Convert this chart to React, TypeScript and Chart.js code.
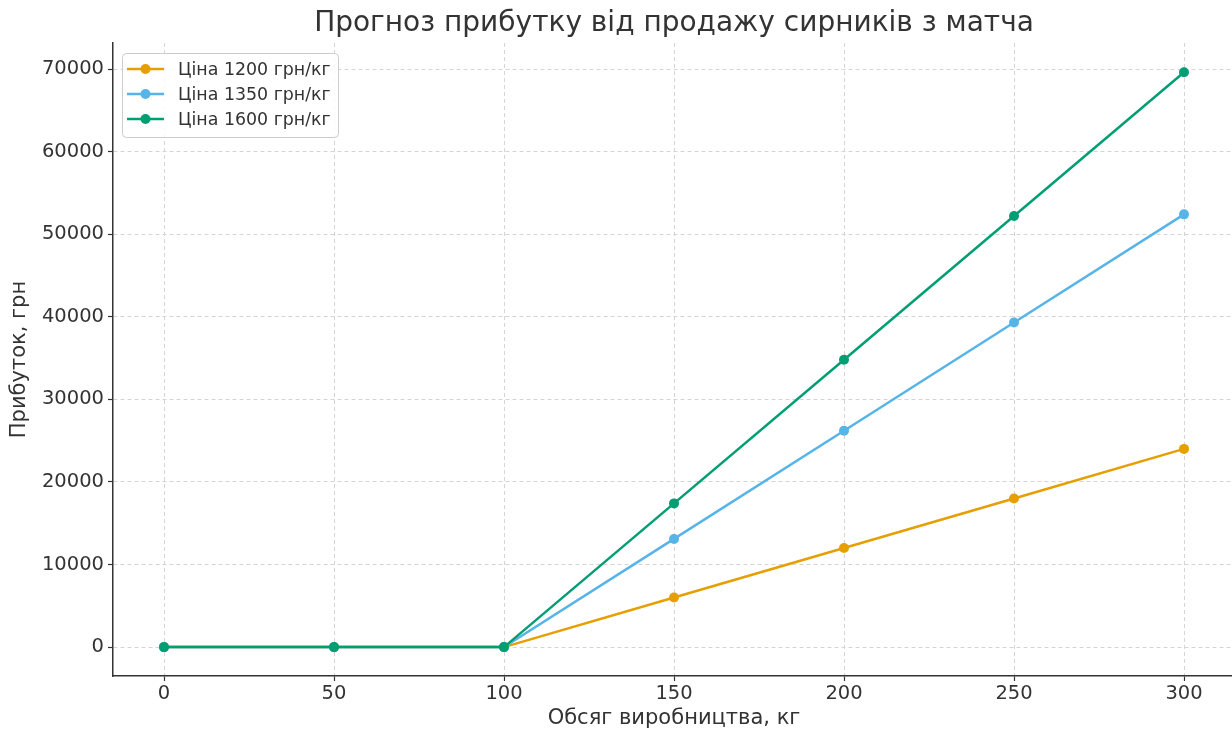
import React, { useEffect, useRef } from "react";
import { Chart, registerables } from "chart.js";

Chart.register(...registerables);

const titleText = "Прогноз прибутку від продажу сирників з матча";
const xTitle = "Обсяг виробництва, кг";
const yTitle = "Прибуток, грн";

const volumes = [0, 50, 100, 150, 200, 250, 300];
const profit1200 = [0, 0, 0, 6000, 12000, 18000, 24000];
const profit1350 = [0, 0, 0, 13100, 26200, 39300, 52400];
const profit1600 = [0, 0, 0, 17400, 34800, 52200, 69600];
const seriesLabels = ["Ціна 1200 грн/кг", "Ціна 1350 грн/кг", "Ціна 1600 грн/кг"];
const seriesColors = ["#E69F00", "#56B4E9", "#009E73"];
const xTicks = [0, 50, 100, 150, 200, 250, 300];
const yTicks = [0, 10000, 20000, 30000, 40000, 50000, 60000, 70000];

const FONT = "'DejaVu Sans', sans-serif";
const TEXT = "#333333";
const CANVAS_W = 1240;

const titlePlugin = {
  id: "customTitle",
  afterDraw(chart: any) {
    const ctx = chart.ctx;
    const a = chart.chartArea;
    ctx.save();
    ctx.fillStyle = TEXT;
    ctx.font = `28px ${FONT}`;
    ctx.textAlign = "center";
    ctx.textBaseline = "middle";
    ctx.fillText(titleText, (a.left + a.right) / 2, 24);
    ctx.restore();
  },
};

const legendPlugin = {
  id: "innerLegend",
  afterDraw(chart: any) {
    const ctx = chart.ctx;
    const a = chart.chartArea;
    const x0 = a.left + 9;
    const y0 = a.top + 10;
    const w = 216;
    const h = 84;
    ctx.save();
    ctx.fillStyle = "rgba(255,255,255,0.85)";
    ctx.strokeStyle = "#cccccc";
    ctx.lineWidth = 1;
    ctx.beginPath();
    (ctx as any).roundRect(x0 + 0.5, y0 + 0.5, w, h, 4);
    ctx.fill();
    ctx.stroke();
    ctx.font = `17.4px ${FONT}`;
    ctx.textBaseline = "middle";
    ctx.textAlign = "left";
    chart.data.datasets.forEach((ds: any, i: number) => {
      const cy = y0 + 16 + i * 25;
      ctx.strokeStyle = ds.borderColor;
      ctx.lineWidth = 2.5;
      ctx.beginPath();
      ctx.moveTo(x0 + 5, cy);
      ctx.lineTo(x0 + 42, cy);
      ctx.stroke();
      ctx.fillStyle = ds.borderColor;
      ctx.beginPath();
      ctx.arc(x0 + 23.5, cy, 5, 0, Math.PI * 2);
      ctx.fill();
      ctx.fillStyle = TEXT;
      ctx.fillText(ds.label, x0 + 56, cy + 1);
    });
    ctx.restore();
  },
};

export default function App() {
  const ref = useRef<HTMLCanvasElement | null>(null);

  useEffect(() => {
    if (!ref.current) return;
    const datasets = [profit1200, profit1350, profit1600].map((vals, i) => ({
      label: seriesLabels[i],
      data: volumes.map((v, j) => ({ x: v, y: vals[j] })),
      borderColor: seriesColors[i],
      backgroundColor: seriesColors[i],
      borderWidth: 2.5,
      pointRadius: 5,
      pointHoverRadius: 5,
      pointBorderWidth: 0,
      tension: 0,
      order: 3 - i,
    }));
    const chart = new Chart(ref.current, {
      type: "line",
      data: { datasets },
      options: {
        animation: false,
        responsive: false,
        maintainAspectRatio: false,
        layout: { padding: { top: 43, right: 0, left: 0, bottom: 0 } },
        plugins: {
          legend: { display: false },
          title: { display: false },
          tooltip: { enabled: false },
        },
        scales: {
          x: {
            type: "linear",
            min: -15,
            max: 315,
            afterBuildTicks: (s: any) => {
              s.ticks = xTicks.map((v) => ({ value: v }));
            },
            afterFit: (s: any) => {
              s.height = 55;
            },
            grid: {
              color: "#d4d4d4",
              lineWidth: 1,
              tickLength: 5,
              tickColor: TEXT,
              tickWidth: 1.2,
            },
            border: { display: true, color: TEXT, width: 1.5, dash: [4, 3] },
            ticks: {
              color: TEXT,
              font: { family: FONT, size: 19.5 },
              padding: 1,
              maxRotation: 0,
              autoSkip: false,
            },
            title: {
              display: true,
              text: xTitle,
              color: TEXT,
              font: { family: FONT, size: 21 },
              padding: 0,
            },
          },
          y: {
            type: "linear",
            min: -3500,
            max: 73150,
            afterBuildTicks: (s: any) => {
              s.ticks = yTicks.map((v) => ({ value: v }));
            },
            afterFit: (s: any) => {
              s.width = 113;
            },
            grid: {
              color: "#d4d4d4",
              lineWidth: 1,
              tickLength: 5,
              tickColor: TEXT,
              tickWidth: 1.2,
            },
            border: { display: true, color: TEXT, width: 1.5, dash: [4, 3] },
            ticks: {
              color: TEXT,
              font: { family: FONT, size: 19.5 },
              padding: 4,
              autoSkip: false,
              callback: (v: any) => String(v),
            },
            title: {
              display: true,
              text: yTitle,
              color: TEXT,
              font: { family: FONT, size: 21 },
              padding: { top: 7, bottom: 0 },
            },
          },
        },
      },
      plugins: [titlePlugin, legendPlugin],
    } as any);
    return () => chart.destroy();
  }, []);

  return (
    <div
      style={{
        position: "fixed",
        left: 0,
        top: 0,
        width: 1232,
        height: 731,
        overflow: "hidden",
        background: "#fff",
      }}
    >
      <canvas ref={ref} width={CANVAS_W} height={731} style={{ width: CANVAS_W, height: 731, display: "block" }} />
    </div>
  );
}
